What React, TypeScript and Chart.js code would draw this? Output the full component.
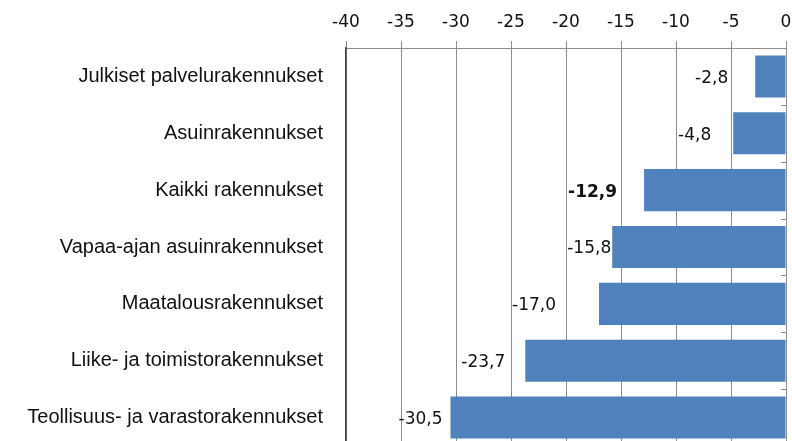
import React, { useEffect, useRef } from "react";
import { Chart, registerables } from "chart.js";

Chart.register(...registerables);

const categories = [
  "Julkiset palvelurakennukset",
  "Asuinrakennukset",
  "Kaikki rakennukset",
  "Vapaa-ajan asuinrakennukset",
  "Maatalousrakennukset",
  "Liike- ja toimistorakennukset",
  "Teollisuus- ja varastorakennukset",
];
const values = [-2.8, -4.8, -12.9, -15.8, -17.0, -23.7, -30.5];
const valueLabels = ["-2,8", "-4,8", "-12,9", "-15,8", "-17,0", "-23,7", "-30,5"];
const boldLabel = [false, false, true, false, false, false, false];
const labelGaps = [27, 22, 27, 1, 43, 20, 8];
const xMin = -40;
const xMax = 0;
const xStep = 5;

const labelPlugin = {
  id: "valueLabels",
  afterDatasetsDraw(chart: any) {
    const ctx = chart.ctx;
    const meta = chart.getDatasetMeta(0);
    ctx.save();
    ctx.textAlign = "right";
    ctx.textBaseline = "middle";
    ctx.fillStyle = "#111";
    meta.data.forEach((bar: any, i: number) => {
      ctx.font = (boldLabel[i] ? "bold " : "") + "17px 'DejaVu Sans'";
      ctx.fillText(valueLabels[i], bar.x - labelGaps[i], bar.y + 2);
    });
    const xs = chart.scales.x;
    const ys = chart.scales.y;
    const x0 = xs.getPixelForValue(0);
    ctx.strokeStyle = "#8c8c8c";
    ctx.lineWidth = 1;
    const n = categories.length;
    const band = ys.getPixelForValue(1) - ys.getPixelForValue(0);
    for (let i = 0; i <= n; i++) {
      const y = Math.round(ys.getPixelForValue(i) - band / 2) + 0.5;
      ctx.beginPath();
      ctx.moveTo(x0 - 5, y);
      ctx.lineTo(x0, y);
      ctx.stroke();
    }
    ctx.restore();
  },
};

export default function App() {
  const ref = useRef<HTMLCanvasElement | null>(null);
  useEffect(() => {
    if (!ref.current) return;
    const chart = new Chart(ref.current, {
      type: "bar",
      data: {
        labels: categories,
        datasets: [
          {
            data: values,
            backgroundColor: "#4F81BD",
            borderWidth: 0,
            categoryPercentage: 1,
            barPercentage: 0.74,
          },
        ],
      },
      options: {
        indexAxis: "y",
        animation: false,
        responsive: false,
        maintainAspectRatio: false,
        devicePixelRatio: 1,
        layout: { padding: { top: 0, right: 6, bottom: 0, left: 0 } },
        plugins: {
          legend: { display: false },
          tooltip: { enabled: false },
        },
        scales: {
          x: {
            position: "top",
            min: xMin,
            max: xMax,
            ticks: {
              stepSize: xStep,
              color: "#111",
              font: { family: "'DejaVu Sans'", size: 17 },
              padding: 8,
              maxRotation: 0,
              autoSkip: false,
              callback: (v: any) => String(v),
            },
            grid: {
              color: "#8c8c8c",
              tickLength: 7,
              tickColor: "#8c8c8c",
            },
            border: { color: "#8c8c8c" },
            afterFit: (s: any) => {
              s.height = 48;
              s.paddingLeft = 0;
              s.paddingRight = 0;
            },
          },
          y: {
            position: "left",
            ticks: {
              color: "#111",
              font: { family: "'Liberation Sans'", size: 20 },
              padding: 23,
            },
            grid: { drawOnChartArea: false, drawTicks: false, color: "transparent" },
            border: { color: "#404040", width: 1.5 },
            afterFit: (s: any) => {
              s.width = 346;
              s.paddingTop = 0;
              s.paddingBottom = 0;
            },
          },
        },
      },
      plugins: [labelPlugin],
    });
    return () => chart.destroy();
  }, []);
  return (
    <div style={{ position: "fixed", left: 0, top: 0, width: 792, height: 446, background: "#fff" }}>
      <canvas ref={ref} width={792} height={446} style={{ display: "block", width: 792, height: 446 }} />
    </div>
  );
}
